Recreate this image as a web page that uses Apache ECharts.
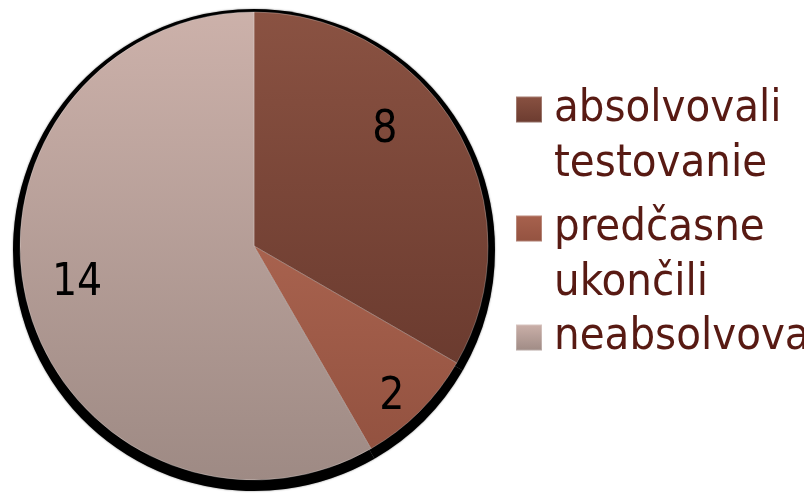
<!DOCTYPE html>
<html>
<head>
<meta charset="utf-8">
<script src="https://cdn.jsdelivr.net/npm/echarts@6/dist/echarts.min.js"></script>
<style>
  html, body { margin: 0; padding: 0; background: #fff; }
  #myChart { width: 804px; height: 494px; }
</style>
</head>
<body>
<div id="myChart"></div>
<script>
// data
var categories = ['absolvovali testovanie', 'predčasne ukončili', 'neabsolvovali']
var legendLines = [['absolvovali', 'testovanie'], ['predčasne', 'ukončili'], ['neabsolvovali']]
var values = [8, 2, 14]

var sliceColors = [
  ['#8a5242', '#6b3b2f'],
  ['#a8624e', '#935240'],
  ['#ccb1aa', '#9e8a84']
]
// nudges so the labels sit where the original has them
var labelOffsets = [[27, -55], [53, 67], [-61, 7]]

var myChart = echarts.init(document.getElementById('myChart'))

var fontFamily = '"DejaVu Sans Condensed", "DejaVu Sans", sans-serif'

function grad(c) {
  return new echarts.graphic.LinearGradient(0, 0, 0, 1, [
    { offset: 0, color: c[0] },
    { offset: 1, color: c[1] }
  ])
}

// one legend per item so the icon lines up with the first text line
var legendTops = [27, 146, 310]
var legends = categories.map(function(name, i) {
  var lines = legendLines[i]
  return {
    orient: 'vertical',
    left: 515,
    top: legendTops[i],
    padding: 0,
    itemWidth: 26,
    itemHeight: 26,
    icon: 'rect',
    selectedMode: false,
    data: [name],
    formatter: function() {
      // blank first line pushes the block down so line 1 is centred on the icon
      return lines.length > 1 ? ' \n' + lines.join('\n') : lines[0]
    },
    textStyle: {
      fontFamily: fontFamily,
      fontSize: 45,
      lineHeight: 55,
      color: '#581a13',
      padding: [0, 0, 0, 7]
    }
  }
})

var option = {
  animation: false,
  legend: legends,
  series: [
    {
      // dark rim behind the pie
      type: 'pie',
      silent: true,
      center: [254, 250],
      radius: [0, 241],
      startAngle: 90,
      label: { show: false },
      labelLine: { show: false },
      legendHoverLink: false,
      itemStyle: { color: '#000', borderWidth: 0, shadowColor: 'rgba(0,0,0,0.5)', shadowBlur: 2 },
      emphasis: { disabled: true },
      tooltip: { show: false },
      data: values.map(function(v, i) {
        return { name: categories[i] + ' ', value: v }
      })
    },
    {
      type: 'pie',
      center: [254, 246],
      radius: [0, 234],
      startAngle: 90,
      clockwise: true,
      label: {
        show: true,
        position: 'inside',
        formatter: '{c}',
        fontFamily: fontFamily,
        fontSize: 44,
        color: '#000'
      },
      labelLine: { show: false },
      itemStyle: {
        borderColor: 'rgba(255,255,255,0.25)',
        borderWidth: 1
      },
      emphasis: { disabled: true },
      data: values.map(function(v, i) {
        return {
          name: categories[i],
          value: v,
          itemStyle: { color: grad(sliceColors[i]) },
          label: { offset: labelOffsets[i] }
        }
      })
    }
  ]
}

myChart.setOption(option)
</script>
</body>
</html>
